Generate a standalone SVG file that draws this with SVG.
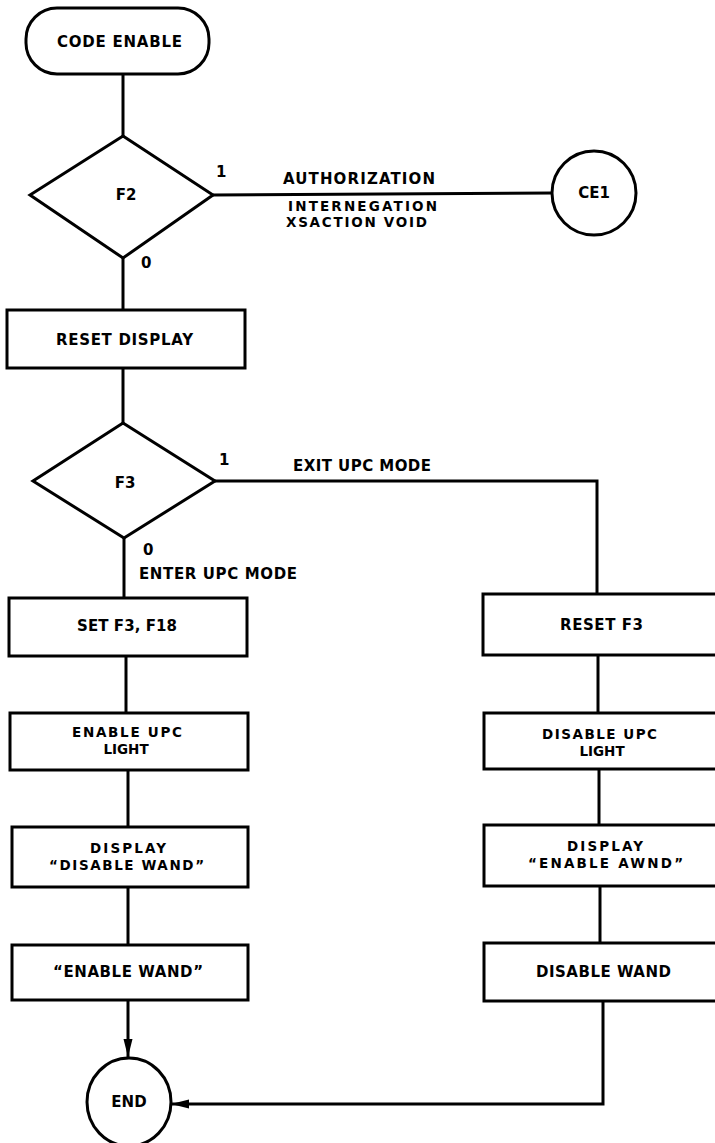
<svg xmlns="http://www.w3.org/2000/svg" width="715" height="1143" viewBox="0 0 715 1143">
<style>
.n{fill:#fff;stroke:#000;stroke-width:3}
.c{fill:none;stroke:#000;stroke-width:3}
text{font-family:"DejaVu Sans","Liberation Sans",Arial,sans-serif;font-weight:bold;font-size:15px;fill:#000}
.s{font-size:13.5px}
.m{text-anchor:middle}
</style>
<defs>
<marker id="arr" markerUnits="userSpaceOnUse" markerWidth="20" markerHeight="10" refX="18" refY="5" orient="auto">
<path d="M0,0.5 L18,5 L0,9.5 z" fill="#000"/>
</marker>
</defs>
<rect width="715" height="1143" fill="#fff"/>
<g id="connectors">
<path class="c" d="M123,74 V136"/>
<path class="c" d="M123,258 V310"/>
<path class="c" d="M213,195 L553,193"/>
<path class="c" d="M123,368 V423"/>
<path class="c" d="M215,481 H597 V594"/>
<path class="c" d="M124,538 V598"/>
<path class="c" d="M126,656 V713"/>
<path class="c" d="M128,770 V827"/>
<path class="c" d="M128,887 V945"/>
<path class="c" d="M128,1000 V1057" marker-end="url(#arr)"/>
<path class="c" d="M598,655 V713"/>
<path class="c" d="M599,769 V825"/>
<path class="c" d="M600,886 V943"/>
<path class="c" d="M603,1001 V1104 H171" marker-end="url(#arr)"/>
</g>
<g id="labels">
<text x="216" y="177">1</text>
<text x="141" y="268">0</text>
<text x="283" y="184" textLength="152" lengthAdjust="spacing">AUTHORIZATION</text>
<text class="s" x="288" y="211" textLength="149" lengthAdjust="spacing">INTERNEGATION</text>
<text class="s" x="286" y="227" textLength="141" lengthAdjust="spacing">XSACTION VOID</text>
<text x="219" y="465">1</text>
<text x="293" y="471" textLength="138" lengthAdjust="spacing">EXIT UPC MODE</text>
<text x="143" y="555">0</text>
<text x="139" y="579" textLength="158" lengthAdjust="spacing">ENTER UPC MODE</text>
</g>
<g id="start">
<rect class="n" x="26" y="8" width="183" height="66" rx="31" ry="31"/>
<text x="57" y="47" textLength="125" lengthAdjust="spacing">CODE ENABLE</text>
</g>
<g id="f2">
<polygon class="n" points="123,136 213,195 123,258 30,195"/>
<text class="m" x="126" y="200">F2</text>
</g>
<g id="ce1">
<circle class="n" cx="594" cy="193" r="42"/>
<text class="m" x="594" y="198">CE1</text>
</g>
<g id="reset-display">
<rect class="n" x="7" y="310" width="238" height="58"/>
<text x="56" y="345" textLength="137" lengthAdjust="spacing">RESET DISPLAY</text>
</g>
<g id="f3">
<polygon class="n" points="123,423 215,481 124,538 33,481"/>
<text class="m" x="125" y="488">F3</text>
</g>
<g id="set-f3">
<rect class="n" x="9" y="598" width="238" height="58"/>
<text x="77" y="631" textLength="100" lengthAdjust="spacing">SET F3, F18</text>
</g>
<g id="enable-upc">
<rect class="n" x="10" y="713" width="238" height="57"/>
<text class="s" x="72" y="737" textLength="110" lengthAdjust="spacing">ENABLE UPC</text>
<text class="s m" x="126" y="754">LIGHT</text>
</g>
<g id="display-disable">
<rect class="n" x="12" y="827" width="236" height="60"/>
<text class="s" x="90" y="853" textLength="76" lengthAdjust="spacing">DISPLAY</text>
<text class="s" x="49" y="870" textLength="155" lengthAdjust="spacing">“DISABLE WAND”</text>
</g>
<g id="enable-wand">
<rect class="n" x="12" y="945" width="236" height="55"/>
<text x="53" y="977" textLength="150" lengthAdjust="spacing">“ENABLE WAND”</text>
</g>
<g id="reset-f3">
<rect class="n" x="483" y="594" width="240" height="61"/>
<text x="560" y="630" textLength="83" lengthAdjust="spacing">RESET F3</text>
</g>
<g id="disable-upc">
<rect class="n" x="484" y="713" width="240" height="56"/>
<text class="s" x="542" y="739" textLength="115" lengthAdjust="spacing">DISABLE UPC</text>
<text class="s m" x="602" y="756">LIGHT</text>
</g>
<g id="display-enable">
<rect class="n" x="484" y="825" width="240" height="61"/>
<text class="s" x="567" y="851" textLength="76" lengthAdjust="spacing">DISPLAY</text>
<text class="s" x="528" y="868" textLength="155" lengthAdjust="spacing">“ENABLE AWND”</text>
</g>
<g id="disable-wand">
<rect class="n" x="484" y="943" width="240" height="58"/>
<text x="536" y="977" textLength="135" lengthAdjust="spacing">DISABLE WAND</text>
</g>
<g id="end">
<ellipse class="n" cx="129" cy="1102" rx="42" ry="44"/>
<text class="m" x="129" y="1107">END</text>
</g>
</svg>
